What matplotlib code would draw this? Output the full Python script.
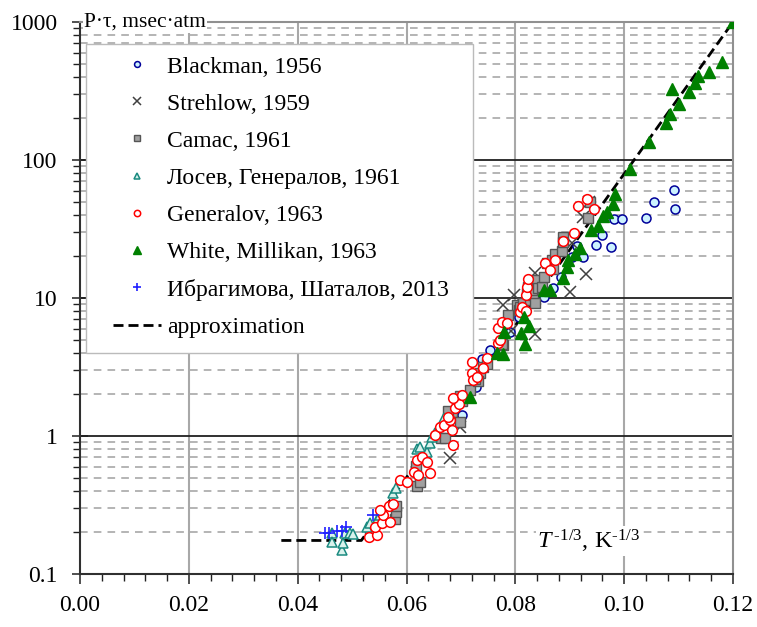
import numpy as np
import matplotlib
matplotlib.use("Agg")
import matplotlib.pyplot as plt
from matplotlib.patches import Rectangle
from matplotlib.ticker import FixedLocator, LogLocator, NullFormatter, FormatStrFormatter

plt.rcParams['font.family'] = ['Liberation Serif', 'DejaVu Serif']
plt.rcParams['mathtext.fontset'] = 'custom'
plt.rcParams['mathtext.rm'] = 'Liberation Serif'
plt.rcParams['mathtext.it'] = 'Liberation Serif:italic'

# T^-1/3 (K^-1/3) and P*tau (msec*atm) for each data set
blackman_x = [0.0702, 0.0728, 0.0738, 0.0754, 0.0772, 0.0790, 0.0806, 0.0852, 0.0869,
              0.0884, 0.0905, 0.0914, 0.0925, 0.0949, 0.0959, 0.0975, 0.0981, 0.0996,
              0.1040, 0.1055, 0.1091, 0.1094]
blackman_y = [1.42, 2.25, 3.6, 4.2, 5.0, 5.7, 7.3, 10.2, 11.8,
              14.3, 19.9, 24.0, 19.8, 24.1, 28.6, 23.4, 37.5, 37.2,
              38.0, 49.6, 60.3, 44.0]

strehlow_x = [0.0680, 0.0699, 0.0778, 0.0798, 0.0792, 0.0836, 0.0836, 0.0901, 0.0905,
              0.0930, 0.0925, 0.0935]
strehlow_y = [0.69, 1.17, 8.9, 10.5, 5.8, 5.46, 15.1, 11.1, 25.0,
              14.9, 38.8, 50.0]

camac_x = [0.0533, 0.0579, 0.0581, 0.0580, 0.0618, 0.0620, 0.0625, 0.0663, 0.0670,
           0.0683, 0.0692, 0.0677, 0.0698, 0.0699, 0.0702, 0.0717, 0.0729, 0.0735,
           0.0741, 0.0748, 0.0732, 0.0726, 0.0778, 0.0775, 0.0786, 0.0803, 0.0806,
           0.0809, 0.0815, 0.0821, 0.0827, 0.0833, 0.0836, 0.0824, 0.0830, 0.0833,
           0.0839, 0.0842, 0.0849, 0.0852, 0.0858, 0.0867, 0.0870, 0.0873, 0.0885,
           0.0887, 0.0888, 0.0934, 0.0938]
camac_y = [0.203, 0.25, 0.283, 0.313, 0.607, 0.437, 0.468, 0.96, 0.96,
           1.5, 1.82, 1.53, 1.27, 1.95, 1.79, 2.15, 2.69, 2.85,
           3.15, 3.35, 2.5, 2.6, 4.56, 4.65, 7.5, 8.9, 8.2,
           8.6, 9.2, 10.8, 9.7, 10.5, 9.2, 12.1, 11.4, 13.0,
           13.4, 11.8, 12.1, 14.3, 17.9, 18.9, 16.1, 20.7, 21.8,
           27.5, 25.6, 38.3, 49.9]

losev_x = [0.0463, 0.0464, 0.0481, 0.0484, 0.0487, 0.0496, 0.0502, 0.0527, 0.0533,
           0.0548, 0.0551, 0.0576, 0.0581, 0.0620, 0.0624, 0.0637, 0.0643, 0.0646,
           0.0653, 0.0668]
losev_y = [0.197, 0.170, 0.149, 0.167, 0.197, 0.197, 0.194, 0.22, 0.233,
           0.253, 0.268, 0.385, 0.418, 0.80, 0.83, 0.77, 0.886, 0.99,
           1.05, 1.34]

generalov_x = [0.0532, 0.0545, 0.0542, 0.0555, 0.0556, 0.0551, 0.0570, 0.0567, 0.0576,
               0.0588, 0.0600, 0.0619, 0.0628, 0.0637, 0.0614, 0.0622, 0.0643, 0.0653,
               0.0662, 0.0668, 0.0680, 0.0683, 0.0686, 0.0677, 0.0689, 0.0697, 0.0686,
               0.0702, 0.0720, 0.0720, 0.0723, 0.0730, 0.0741, 0.0748, 0.0768, 0.0772,
               0.0768, 0.0775, 0.0784, 0.0808, 0.0812, 0.0820, 0.0820, 0.0821, 0.0823,
               0.0855, 0.0864, 0.0873, 0.0888, 0.0907, 0.0916, 0.0931, 0.0944]
generalov_y = [0.184, 0.192, 0.22, 0.233, 0.268, 0.291, 0.239, 0.313, 0.322,
               0.48, 0.467, 0.67, 0.708, 0.651, 0.551, 0.522, 0.542, 1.02,
               1.17, 1.2, 1.31, 1.1, 0.86, 1.38, 1.59, 1.71, 1.88,
               1.98, 3.45, 2.87, 2.55, 2.69, 3.1, 3.66, 4.7, 4.96,
               6.03, 6.73, 6.6, 7.96, 8.65, 8.1, 10.5, 12.1, 13.7,
               18.0, 16.0, 18.9, 25.8, 29.4, 46.7, 52.0, 44.0]

white_x = [0.0717, 0.0766, 0.0778, 0.0779, 0.0811, 0.0816, 0.0818, 0.0826, 0.0852,
           0.0864, 0.0887, 0.0895, 0.0896, 0.0910, 0.0918, 0.0939, 0.0951, 0.0961,
           0.0969, 0.0980, 0.0983, 0.1010, 0.1045, 0.1077, 0.1085, 0.1088, 0.1100,
           0.1120, 0.1131, 0.1135, 0.1155, 0.1180, 0.1200]
white_y = [1.93, 3.97, 3.93, 5.7, 5.55, 7.25, 4.64, 6.27, 11.4,
           11.4, 13.9, 16.9, 18.8, 21.0, 23.0, 31.0, 33.0, 39.0,
           42.0, 48.0, 57.0, 86.0, 136.0, 184.0, 214.0, 327.0, 253.0,
           310.0, 361.0, 404.0, 434.0, 510.0, 1000.0]

ibragimova_x = [0.0450, 0.0458, 0.0473, 0.0481, 0.0489, 0.0538]
ibragimova_y = [0.199, 0.199, 0.206, 0.206, 0.22, 0.268]

approx_x = [0.037, 0.0517, 0.120]
approx_y = [0.175, 0.175, 1000.0]

W, H = 757, 627
fig = plt.figure(figsize=(W / 100, H / 100), dpi=100)
ax = fig.add_axes([80 / W, 1 - 574 / H, (733 - 80) / W, (574 - 22) / H])

ax.set_yscale('log')
ax.set_xlim(0.0, 0.12)
ax.set_ylim(0.1, 1000)

ax.xaxis.set_major_locator(FixedLocator(np.arange(0, 0.121, 0.02)))
ax.xaxis.set_minor_locator(FixedLocator(np.arange(0, 0.1201, 0.004)))
ax.xaxis.set_major_formatter(FormatStrFormatter('%.2f'))
ax.yaxis.set_major_locator(FixedLocator([0.1, 1, 10, 100, 1000]))
ax.yaxis.set_minor_locator(LogLocator(base=10, subs=np.arange(2, 10)))
ax.yaxis.set_minor_formatter(NullFormatter())
ax.set_yticklabels(['0.1', '1', '10', '100', '1000'])

# grid: solid verticals, dark decade lines, dashed minor lines
for xv in np.arange(0.02, 0.11, 0.02):
    ax.axvline(xv, color='#a8a8a8', lw=1.5, zorder=0)
for yv in [1, 10, 100]:
    ax.axhline(yv, color='#202020', lw=1.3, zorder=0)
for dec in [0.1, 1, 10, 100]:
    for m in range(2, 10):
        ax.axhline(dec * m, color='#a0a0a0', lw=1.1, ls=(0, (5, 4)), zorder=0)

for s in ['top', 'right']:
    ax.spines[s].set_color('#909090')
    ax.spines[s].set_linewidth(1.5)
for s in ['left', 'bottom']:
    ax.spines[s].set_color('#303030')
    ax.spines[s].set_linewidth(1.5)

ax.tick_params(axis='x', which='major', direction='out', length=7, width=1.1,
               labelsize=17, pad=8, color='#202020')
ax.tick_params(axis='x', which='minor', direction='out', length=5, width=1.0, color='#202020')
ax.tick_params(axis='y', which='major', direction='inout', length=12, width=1.1,
               labelsize=17, pad=10, color='#202020')
ax.tick_params(axis='y', which='minor', direction='out', length=5, width=1.0, color='#202020')

ax.plot(approx_x, approx_y, color='black', lw=2.0, ls=(0, (3.6, 1.8)),
        label='approximation', zorder=2)

ax.plot(blackman_x, blackman_y, 'o', ms=6.5, mfc='#ccf2ff', mec='#000099', mew=1.1,
        label='Blackman, 1956', zorder=3)
ax.plot(strehlow_x, strehlow_y, 'x', ms=8, color='#404040', mew=1.1,
        label='Strehlow, 1959', zorder=3)
ax.plot(camac_x, camac_y, 's', ms=6.5, mfc='#a0a0a0', mec='#555555', mew=1.0,
        label='Camac, 1961', zorder=3)
ax.plot(losev_x, losev_y, '^', ms=6.5, mfc='#d9f2ec', mec='#1a8a80', mew=1.1,
        label='Лосев, Генералов, 1961', zorder=3)
ax.plot(generalov_x, generalov_y, 'o', ms=7, mfc='white', mec='#ff0000', mew=1.1,
        label='Generalov, 1963', zorder=4)
ax.plot(white_x, white_y, '^', ms=8, color='#008000',
        label='White, Millikan, 1963', zorder=4)
ax.plot(ibragimova_x, ibragimova_y, '+', ms=8, color='#2020ff', mew=1.2,
        label='Ибрагимова, Шаталов, 2013', zorder=5)

# legend box drawn separately so its padding can be set freely
box = Rectangle((86 / W, 1 - 353 / H), (473 - 86) / W, (353 - 44) / H,
                transform=fig.transFigure, facecolor='white', edgecolor='#bbbbbb',
                lw=1.0, zorder=9, clip_on=False)
ax.add_patch(box)

handles, labels = ax.get_legend_handles_labels()
order = handles[1:] + handles[:1]
order_labels = labels[1:] + labels[:1]
leg = ax.legend(order, order_labels, loc='upper left',
                bbox_to_anchor=(113 / W, 1 - 56 / H), bbox_transform=fig.transFigure,
                fontsize=17, markerscale=0.65, handlelength=2.03, handletextpad=0.26,
                labelspacing=0.66, borderpad=0, borderaxespad=0, frameon=False)
leg.set_zorder(10)

ax.text(0.006, 1.0, 'P·τ, msec·atm', transform=ax.transAxes, fontsize=15.5,
        va='center', ha='left', zorder=11,
        bbox=dict(facecolor='white', edgecolor='none', pad=1))
ax.text(0.70, 0.047, '$\\mathit{T}^{\\,\\mathrm{\u2010 1/3}}$, K$^{\\mathrm{\u2010 1/3}}$',
        transform=ax.transAxes, fontsize=17.5, va='baseline', ha='left', zorder=11,
        bbox=dict(facecolor='white', edgecolor='none', pad=1))

fig.savefig('out.png', dpi=100)
